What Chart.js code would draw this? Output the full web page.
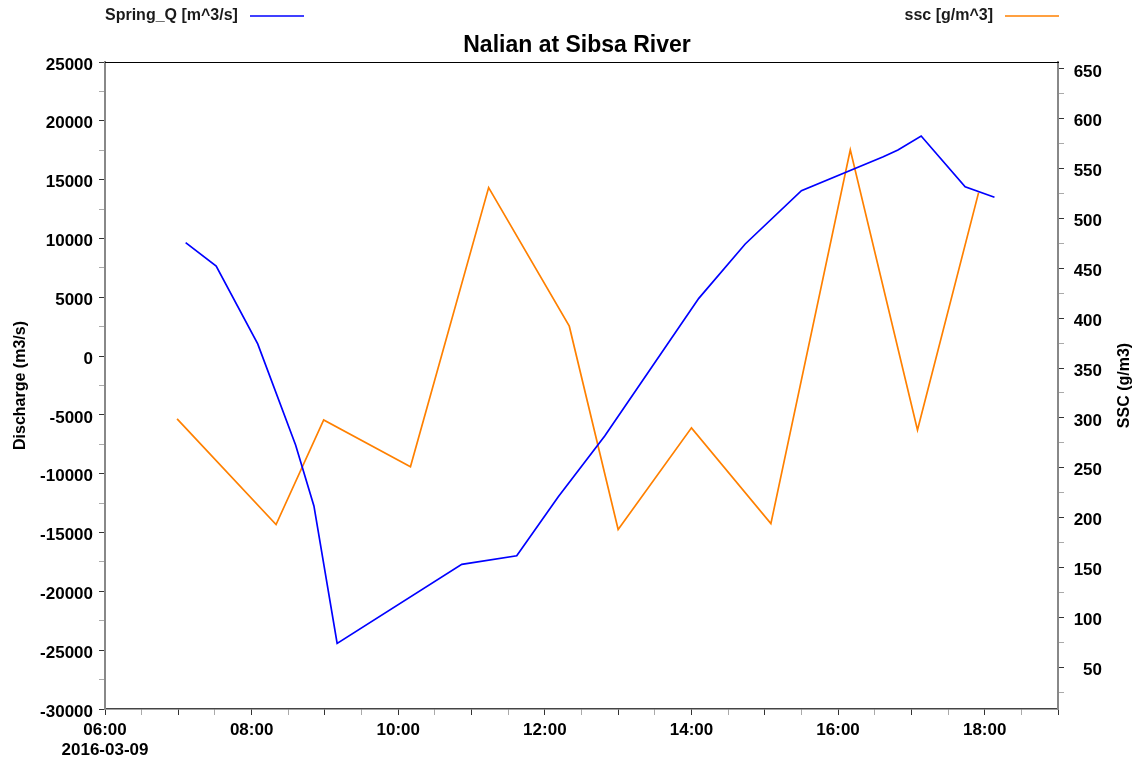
<!DOCTYPE html>
<html>
<head>
<meta charset="utf-8">
<script src="https://cdn.jsdelivr.net/npm/chart.js@4/dist/chart.umd.min.js"></script>
<style>
  html, body { margin: 0; padding: 0; background: #ffffff; }
  #wrap { width: 1144px; height: 762px; }
</style>
</head>
<body>
<div id="wrap"><canvas id="c" width="1144" height="762"></canvas></div>
<script>
// Discharge time series (left axis)
const qTimes  = ['07:06','07:31','08:05','08:36','08:51','09:10','10:52','11:37','12:11',
                 '12:49','14:06','14:44','15:30','16:37','16:49','17:08','17:44','18:08'];
const qValues = [9640, 7660, 1030, -7560, -12740, -24420, -17700, -16970, -11950,
                 -6790, 4910, 9530, 14060, 16950, 17520, 18710, 14400, 13500];

// Suspended sediment concentration (right axis)
const sscTimes  = ['06:59','08:20','08:59','10:10','11:14','12:20','13:00','14:00','15:05','16:10','17:05','17:55'];
const sscValues = [299, 193, 298, 251, 531, 392, 188, 290, 194, 569, 288, 526];

const dateLabel = '2016-03-09';
const seriesNames = ['Spring_Q [m^3/s]', 'ssc [g/m^3]'];
const chartTitle = 'Nalian at Sibsa River';
const leftTitle = 'Discharge (m3/s)';
const rightTitle = 'SSC (g/m3)';

const FONT = "'Liberation Sans', Arial, Helvetica, sans-serif";

function toHours(t) {
  const [h, m] = t.split(':').map(Number);
  return h + m / 60;
}
function fmtHour(v) {
  const h = Math.floor(v + 1e-6);
  return String(h).padStart(2, '0') + ':00';
}
function buildTicks(min, max, step) {
  const out = [];
  for (let v = min; v <= max + 1e-9; v += step) out.push({ value: +v.toFixed(6) });
  return out;
}
// Value labels sit a few pixels below their tick: an empty first line
// with a tight line height nudges the printed number downwards.
function lowered(text) {
  return ['', text];
}

const tickColorFn = (majorStep) => (ctx) => {
  if (!ctx.tick) return '#666';
  const v = ctx.tick.value;
  return Math.abs(v / majorStep - Math.round(v / majorStep)) < 1e-6 ? '#333333' : '#aaaaaa';
};

// Frame, title, legend and right-hand axis title
const decorations = {
  id: 'decorations',
  afterDraw(chart) {
    const { ctx, chartArea } = chart;
    ctx.save();
    // top frame line
    ctx.strokeStyle = '#000000';
    ctx.lineWidth = 1;
    ctx.beginPath();
    ctx.moveTo(chartArea.left, chartArea.top + 0.5);
    ctx.lineTo(chartArea.right + 1, chartArea.top + 0.5);
    ctx.stroke();

    // title
    ctx.fillStyle = '#000000';
    ctx.font = 'bold 23px ' + FONT;
    ctx.textAlign = 'center';
    ctx.textBaseline = 'middle';
    ctx.fillText(chartTitle, 577, 46);

    // legend entries: left and right
    const ds = chart.data.datasets;
    ctx.font = 'bold 16px ' + FONT;
    ctx.textBaseline = 'middle';
    ctx.textAlign = 'left';
    ctx.fillStyle = '#1a1a1a';
    ctx.fillText(ds[0].label, 105, 16);
    ctx.strokeStyle = ds[0].borderColor;
    ctx.lineWidth = 1.6;
    ctx.beginPath(); ctx.moveTo(250, 16); ctx.lineTo(304, 16); ctx.stroke();

    ctx.textAlign = 'right';
    ctx.fillText(ds[1].label, 993, 16);
    ctx.strokeStyle = ds[1].borderColor;
    ctx.beginPath(); ctx.moveTo(1005, 16); ctx.lineTo(1059, 16); ctx.stroke();

    // right axis title, reading bottom to top
    ctx.translate(1125, (chartArea.top + chartArea.bottom) / 2);
    ctx.rotate(-Math.PI / 2);
    ctx.textAlign = 'center';
    ctx.fillStyle = '#000000';
    ctx.fillText(rightTitle, 0, 0);
    ctx.restore();
  }
};

new Chart(document.getElementById('c'), {
  type: 'line',
  data: {
    datasets: [
      {
        label: seriesNames[0],
        data: qTimes.map((t, i) => ({ x: toHours(t), y: qValues[i] })),
        yAxisID: 'yQ',
        borderColor: '#0000ff',
        borderWidth: 1.7,
        pointRadius: 0,
        tension: 0,
        fill: false
      },
      {
        label: seriesNames[1],
        data: sscTimes.map((t, i) => ({ x: toHours(t), y: sscValues[i] })),
        yAxisID: 'ySSC',
        borderColor: '#ff8000',
        borderWidth: 1.7,
        pointRadius: 0,
        tension: 0,
        fill: false
      }
    ]
  },
  options: {
    responsive: false,
    animation: false,
    devicePixelRatio: 1,
    layout: { padding: { top: 62, right: 42, bottom: 0, left: 0 } },
    plugins: {
      legend: { display: false },
      title: { display: false },
      tooltip: { enabled: false }
    },
    scales: {
      x: {
        type: 'linear',
        position: 'bottom',
        min: 6,
        max: 19,
        afterBuildTicks: (s) => { s.ticks = buildTicks(6, 19, 0.5); },
        afterFit: (s) => { s.height = 53; },
        ticks: {
          autoSkip: false,
          maxRotation: 0,
          minRotation: 0,
          padding: 5,
          color: '#000000',
          font: { family: FONT, size: 17, weight: 'bold' },
          callback: (v) => {
            if (Math.abs(v % 2) > 1e-6) return '';
            return v === 6 ? [fmtHour(v), dateLabel] : fmtHour(v);
          }
        },
        grid: { drawOnChartArea: false, tickLength: 6, tickColor: tickColorFn(1), tickWidth: 1 },
        border: { display: true, color: '#444444', width: 1.5 }
      },
      yQ: {
        type: 'linear',
        position: 'left',
        min: -30000,
        max: 25000,
        afterBuildTicks: (s) => { s.ticks = buildTicks(-30000, 25000, 2500); },
        afterFit: (s) => { s.width = 105; },
        ticks: {
          autoSkip: false,
          padding: 6,
          color: '#000000',
          font: { family: FONT, size: 17, weight: 'bold', lineHeight: 0.35 },
          callback: (v) => (v % 5000 === 0 ? lowered(String(v)) : '')
        },
        grid: { drawOnChartArea: false, tickLength: 6, tickColor: tickColorFn(5000), tickWidth: 1 },
        border: { display: true, color: '#888888', width: 2 },
        title: {
          display: true,
          text: leftTitle,
          color: '#000000',
          font: { family: FONT, size: 16, weight: 'bold' },
          padding: { top: 11, bottom: 0 }
        }
      },
      ySSC: {
        type: 'linear',
        position: 'right',
        min: 8,
        max: 657,
        afterBuildTicks: (s) => { s.ticks = buildTicks(25, 650, 25); },
        afterFit: (s) => { s.width = 44; },
        ticks: {
          autoSkip: false,
          padding: 6,
          crossAlign: 'far',
          color: '#000000',
          font: { family: FONT, size: 17, weight: 'bold', lineHeight: 0.35 },
          callback: (v) => (v % 50 === 0 ? lowered(String(v)) : '')
        },
        grid: { drawOnChartArea: false, tickLength: 6, tickColor: tickColorFn(50), tickWidth: 1 },
        border: { display: true, color: '#888888', width: 2 }
      }
    }
  },
  plugins: [decorations]
});
</script>
</body>
</html>
